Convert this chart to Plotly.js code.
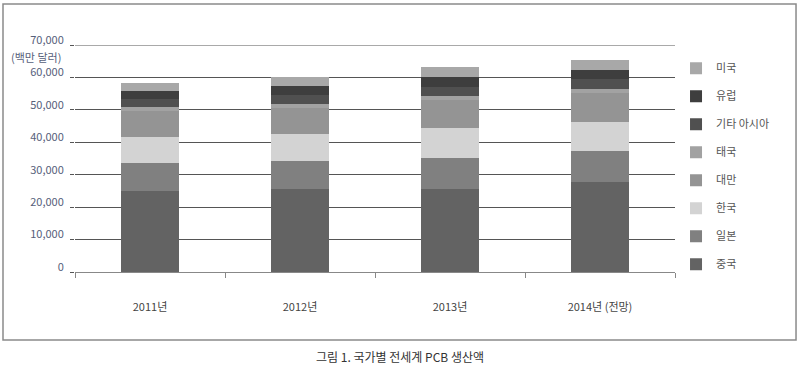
<!DOCTYPE html>
<html><head><meta charset="utf-8">
<script src="https://cdn.plot.ly/plotly-3.0.1.min.js"></script>
<style>html,body{margin:0;padding:0;background:#fff}</style>
</head><body><div id="chart" style="width:799px;height:375px"></div>
<script>
const years = ["2011년", "2012년", "2013년", "2014년 (전망)"];
const china = [25000, 25700, 25700, 27800];
const japan = [8500, 8600, 9400, 9400];
const korea = [8000, 8200, 9200, 9200];
const taiwan = [8000, 8100, 8600, 8800];
const thailand = [1250, 1200, 1300, 1300];
const otherAsia = [2550, 2700, 2900, 3100];
const europe = [2600, 2800, 3100, 2800];
const america = [2500, 2700, 3000, 3100];
const yTicks = [0, 10000, 20000, 30000, 40000, 50000, 60000, 70000];
const yTickText = ["0", "10,000", "20,000", "30,000", "40,000", "50,000", "60,000", "70,000"];
const yMax = 70000;

const series = [
  {name: "중국", y: china, color: "#636363"},
  {name: "일본", y: japan, color: "#808080"},
  {name: "한국", y: korea, color: "#d3d3d3"},
  {name: "대만", y: taiwan, color: "#949494"},
  {name: "태국", y: thailand, color: "#a2a2a2"},
  {name: "기타 아시아", y: otherAsia, color: "#505050"},
  {name: "유럽", y: europe, color: "#3e3e3e"},
  {name: "미국", y: america, color: "#a8a8a8"}
];
const data = series.map((s, i) => ({
  type: "bar", x: years, y: s.y, name: s.name, legendgroup: "g" + i,
  legendrank: 100 - i,
  marker: {color: s.color, line: {width: 0}}, width: 0.39,
  hoverinfo: "name+y"
}));

const F = '"Noto Sans CJK KR", "Noto Sans", sans-serif';
const layout = {
  width: 799, height: 375,
  margin: {l: 75, r: 124, t: 45, b: 103},
  paper_bgcolor: "#fff", plot_bgcolor: "#fff",
  barmode: "stack", bargap: 0.61,
  font: {family: F, size: 11, color: "#444"},
  showlegend: true,
  legend: {x: 1.0017, xanchor: "left", y: 0.962, yanchor: "top",
    traceorder: "grouped", tracegroupgap: 9,
    font: {family: F, size: 11, color: "#555"}, itemwidth: 30, bgcolor: "rgba(0,0,0,0)"},
  xaxis: {type: "category", showgrid: false, showline: true, linecolor: "#888", linewidth: 1,
    ticks: "outside", tickson: "boundaries", ticklen: 5, tickcolor: "#888",
    ticklabelstandoff: 25, tickfont: {family: F, size: 11, color: "#444"}, fixedrange: true},
  yaxis: {range: [0, yMax], tickvals: yTicks, ticktext: yTickText, showgrid: true,
    gridcolor: "#555", gridwidth: 1, zeroline: false, showline: false,
    ticks: "outside", ticklen: 4, tickcolor: "#555", ticklabelshift: -5, ticklabelstandoff: 4,
    tickfont: {family: F, size: 11, color: "#56607a"}, fixedrange: true},
  shapes: [
    {type: "line", xref: "paper", yref: "y", x0: 0, x1: 1, y0: yMax, y1: yMax,
     line: {color: "#555", width: 1}},
    {type: "rect", xref: "paper", yref: "paper", x0: -0.12, x1: 1.2017, y0: -0.2996, y1: 1.1806,
     line: {color: "#8a8a8a", width: 1.5}, fillcolor: "rgba(0,0,0,0)"}],
  annotations: [
    {xref: "paper", yref: "paper", x: -0.02, y: 0.947, xanchor: "right", yanchor: "middle",
     text: "(백만 달러)", showarrow: false, font: {family: F, size: 11, color: "#56607a"}},
    {xref: "paper", yref: "paper", x: 0.5417, y: -0.374, xanchor: "center", yanchor: "middle",
     text: "그림 1. 국가별 전세계 PCB 생산액", showarrow: false, font: {family: F, size: 12, color: "#333"}}
  ]
};
Plotly.newPlot("chart", data, layout, {displayModeBar: false, staticPlot: true});
</script></body></html>
